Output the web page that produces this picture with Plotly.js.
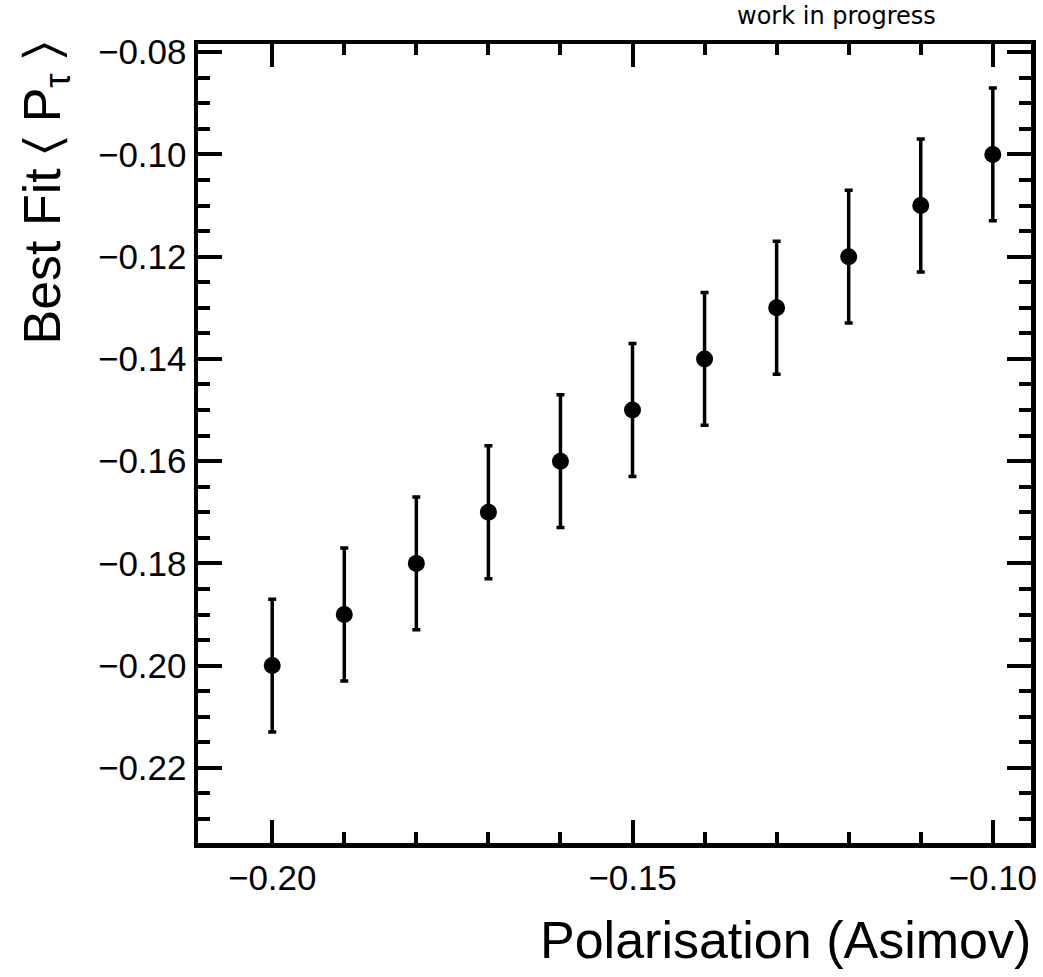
<!DOCTYPE html>
<html>
<head>
<meta charset="utf-8">
<script src="https://cdn.plot.ly/plotly-3.0.1.min.js"></script>
<style>html,body{margin:0;padding:0;background:#fff;}#plot{width:1043px;height:977px;}</style>
</head>
<body>
<div id="plot"></div>
<script>
const polarisation = [-0.20, -0.19, -0.18, -0.17, -0.16, -0.15, -0.14, -0.13, -0.12, -0.11, -0.10];
const bestFit = [-0.20, -0.19, -0.18, -0.17, -0.16, -0.15, -0.14, -0.13, -0.12, -0.11, -0.10];
const fitError = [0.013, 0.013, 0.013, 0.013, 0.013, 0.013, 0.013, 0.013, 0.013, 0.013, 0.013];
const xTickVals = [-0.20, -0.15, -0.10];
const xTickText = ['\u22120.20', '\u22120.15', '\u22120.10'];
const xMinorVals = [-0.19, -0.18, -0.17, -0.16, -0.14, -0.13, -0.12, -0.11];
const yTickVals = [-0.22, -0.20, -0.18, -0.16, -0.14, -0.12, -0.10, -0.08];
const yTickText = yTickVals.map(v => '\u2212' + Math.abs(v).toFixed(2));

const font = 'Liberation Sans, Arial, Helvetica, sans-serif';

const trace = {
  x: polarisation,
  y: bestFit,
  mode: 'markers',
  type: 'scatter',
  marker: {color: '#000', size: 17, symbol: 'circle'},
  error_y: {type: 'data', array: fitError, visible: true, color: '#000', thickness: 3.5, width: 4},
  hoverinfo: 'skip'
};

const axisCommon = {
  showline: true, linewidth: 4.5, linecolor: '#000', mirror: 'ticks',
  ticks: 'inside', tickwidth: 4, tickcolor: '#000',
  showgrid: false, zeroline: false,
  tickfont: {family: font, size: 35, color: '#000'}
};

const layout = {
  width: 1043, height: 977,
  paper_bgcolor: '#fff', plot_bgcolor: '#fff',
  margin: {l: 198, r: 12, t: 44, b: 134},
  showlegend: false,
  xaxis: Object.assign({}, axisCommon, {
    range: [-0.2103, -0.0947],
    tickmode: 'array', tickvals: xTickVals, ticktext: xTickText,
    ticklen: 23,
    minor: {tickmode: 'array', tickvals: xMinorVals, ticks: 'inside', ticklen: 11, tickwidth: 4, tickcolor: '#000', showgrid: false}
  }),
  yaxis: Object.assign({}, axisCommon, {
    range: [-0.2347, -0.0784],
    tickmode: 'array', tickvals: yTickVals, ticktext: yTickText,
    ticklen: 24,
    minor: {dtick: 0.005, tick0: -0.2, ticks: 'inside', ticklen: 12, tickwidth: 4, tickcolor: '#000', showgrid: false}
  }),
  annotations: [
    {text: 'Polarisation (Asimov)', xref: 'paper', yref: 'paper', x: 1, y: 0, xanchor: 'right', yanchor: 'top',
     xshift: 2, yshift: -66, showarrow: false, font: {family: font, size: 52, color: '#000'}},
    {text: 'Best Fit \u2329 P<sub>\u03c4</sub> \u232a', xref: 'paper', yref: 'paper', x: 0, y: 1, xanchor: 'right', yanchor: 'top',
     xshift: -118, yshift: 4, textangle: -90, showarrow: false, font: {family: font, size: 52, color: '#000'}},
    {text: 'work in progress', xref: 'paper', yref: 'paper', x: 0.766, y: 1, xanchor: 'center', yanchor: 'bottom',
     yshift: 12, showarrow: false, font: {family: 'DejaVu Sans, sans-serif', size: 24, color: '#000'}}
  ]
};

Plotly.newPlot('plot', [trace], layout, {displayModeBar: false, staticPlot: true});
</script>
</body>
</html>
